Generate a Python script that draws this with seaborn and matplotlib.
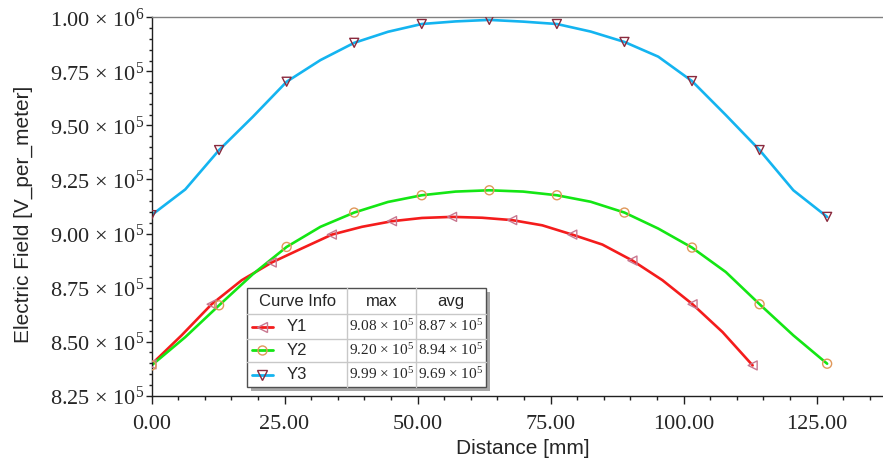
import matplotlib
matplotlib.use("Agg")
import matplotlib.pyplot as plt
import seaborn as sns
import pandas as pd
from matplotlib.patches import Rectangle
from matplotlib.lines import Line2D
from matplotlib.ticker import MultipleLocator

# ---------------- data ----------------
y1_x = [0.0, 5.65, 11.3, 16.95, 22.6, 28.25, 33.9, 39.55, 45.2, 50.85, 56.5,
        62.15, 67.8, 73.45, 79.1, 84.75, 90.4, 96.05, 101.7, 107.35, 113.0]
y1_v = [839500, 852900, 867300, 878400, 886600, 893100, 899500, 903100, 905700, 907200, 907700,
        907300, 906200, 903800, 899500, 894900, 887500, 878400, 867300, 854400, 839000]

y2_x = [0.0, 6.35, 12.7, 19.05, 25.4, 31.75, 38.1, 44.45, 50.8, 57.15, 63.5,
        69.85, 76.2, 82.55, 88.9, 95.25, 101.6, 107.95, 114.3, 120.65, 127.0]
y2_v = [839000, 852100, 866800, 881200, 893800, 903100, 909700, 914600, 917700, 919400, 920000,
        919400, 917700, 914700, 909700, 902300, 893500, 882200, 867300, 852900, 839800]

y3_x = [0.0, 6.35, 12.7, 19.05, 25.4, 31.75, 38.1, 44.45, 50.8, 57.15, 63.5,
        69.85, 76.2, 82.55, 88.9, 95.25, 101.6, 107.95, 114.3, 120.65, 127.0]
y3_v = [908500, 920400, 938600, 954000, 970200, 980200, 988200, 993300, 996900, 998100, 998800,
        998000, 996900, 993400, 988600, 981800, 970500, 954800, 938600, 920000, 907700]

curve_names = ["Y1", "Y2", "Y3"]
max_labels = ["9.08 × 10$^{5}$", "9.20 × 10$^{5}$", "9.99 × 10$^{5}$"]
avg_labels = ["8.87 × 10$^{5}$", "8.94 × 10$^{5}$", "9.69 × 10$^{5}$"]

x_ticks = [0, 25, 50, 75, 100, 125]
x_tick_labels = ["0.00", "25.00", "50.00", "75.00", "100.00", "125.00"]
y_ticks = [825000, 850000, 875000, 900000, 925000, 950000, 975000, 1000000]
y_tick_labels = ["8.25 × 10$^{5}$", "8.50 × 10$^{5}$", "8.75 × 10$^{5}$", "9.00 × 10$^{5}$",
                 "9.25 × 10$^{5}$", "9.50 × 10$^{5}$", "9.75 × 10$^{5}$", "1.00 × 10$^{6}$"]

x_label = "Distance [mm]"
y_label = "Electric Field [V_per_meter]"

# ---------------- style ----------------
sns.set_style("ticks")
plt.rcParams["font.family"] = ["Liberation Sans", "DejaVu Sans"]
plt.rcParams["mathtext.fontset"] = "custom"
plt.rcParams["mathtext.rm"] = "Liberation Serif"
plt.rcParams["mathtext.default"] = "regular"

W, H = 883, 459
fig = plt.figure(figsize=(W / 100, H / 100), dpi=100)
L, T, B = 151.5, 17.3, 395.7
ax = fig.add_axes([L / W, 1 - B / H, (W - L) / W, (B - T) / H])

line_cols = ["#f41c1c", "#14e614", "#14b4f0"]
mark_cols = ["#c87890", "#e0985a", "#8a2a3e"]
markers = ["<", "o", "v"]
xs = [y1_x, y2_x, y3_x]
vs = [y1_v, y2_v, y3_v]

for i in range(3):
    df = pd.DataFrame({"x": xs[i], "v": vs[i]})
    sns.lineplot(data=df, x="x", y="v", ax=ax, color=line_cols[i], linewidth=1.9,
                 estimator=None, sort=False, zorder=2)
for i in range(3):
    dfm = pd.DataFrame({"x": xs[i][::2], "v": vs[i][::2]})
    ax.scatter(dfm["x"], dfm["v"], marker=markers[i], s=42, facecolors="none",
               edgecolors=mark_cols[i], linewidths=1.0, zorder=3)

ax.set_xlim(0, (W - L) / 5.32)
ax.set_ylim(825000, 1000000)
ax.set_xticks(x_ticks)
ax.set_xticklabels(x_tick_labels, fontfamily="Liberation Serif", fontsize=16)
ax.set_yticks(y_ticks)
ax.set_yticklabels(y_tick_labels, fontfamily="Liberation Serif", fontsize=16)
ax.xaxis.set_minor_locator(MultipleLocator(5))
ax.yaxis.set_minor_locator(MultipleLocator(5000))
ax.tick_params(axis="x", which="major", length=6, width=1, direction="out", pad=8, color="#202020")
ax.tick_params(axis="x", which="minor", length=3, width=1, direction="out", color="#202020")
ax.tick_params(axis="y", which="major", length=4, width=1, direction="out", pad=1, color="#202020")
ax.tick_params(axis="y", which="minor", length=2.5, width=1, direction="out", color="#202020")

ax.spines["right"].set_visible(False)
ax.spines["top"].set_color("#808080")
ax.spines["left"].set_color("#202020")
ax.spines["bottom"].set_color("#202020")
for s in ax.spines.values():
    s.set_linewidth(1.0)

ax.set_xlabel(x_label, fontsize=15, va="center")
ax.xaxis.set_label_coords((523 - L) / (W - L), (B - 448) / (B - T))
ax.set_ylabel(y_label, fontsize=15, va="center")
ax.yaxis.set_label_coords((23 - L) / (W - L), 1 - (214 - T) / (B - T))

# ---------------- curve info table ----------------
def fx(px):
    return px / W

def fy(py):
    return 1 - py / H

def rect(x0, y0, x1, y1, **kw):
    r = Rectangle((fx(x0), fy(y1)), (x1 - x0) / W, (y1 - y0) / H,
                  transform=fig.transFigure, **kw)
    fig.add_artist(r)

tx0, ty0, tx1, ty1 = 247.3, 288.3, 485.7, 387.3
rect(tx0 + 4, ty0 + 4, tx1 + 4, ty1 + 4, facecolor="#a8a8a8", edgecolor="none", zorder=5)
rect(tx0, ty0, tx1, ty1, facecolor="white", edgecolor="#505050", linewidth=1.0, zorder=6)
for yy in [314.3, 338.7, 361.7]:
    fig.add_artist(Line2D([fx(tx0), fx(tx1)], [fy(yy), fy(yy)], transform=fig.transFigure,
                          color="#c8c8c8", linewidth=1.0, zorder=7))
for xx in [347.3, 416.0]:
    fig.add_artist(Line2D([fx(xx), fx(xx)], [fy(ty0), fy(ty1)], transform=fig.transFigure,
                          color="#c8c8c8", linewidth=1.0, zorder=7))

hy = 301.3
fig.text(fx(297.5), fy(hy), "Curve Info", fontsize=12, ha="center", va="center", zorder=8)
fig.text(fx(381.7), fy(hy), "max", fontsize=12, ha="center", va="center", zorder=8)
fig.text(fx(450.8), fy(hy), "avg", fontsize=12, ha="center", va="center", zorder=8)
row_y = [326.5, 350.2, 374.5]
for i in range(3):
    ry = row_y[i]
    fig.add_artist(Line2D([fx(251.7), fx(273.3)], [fy(ry), fy(ry)], transform=fig.transFigure,
                          color=line_cols[i], linewidth=2.0, zorder=8))
    fig.add_artist(Line2D([fx(262.0)], [fy(ry)], transform=fig.transFigure, marker=markers[i],
                          markersize=6.5, markerfacecolor="none", markeredgecolor=mark_cols[i],
                          markeredgewidth=1.0, linestyle="none", zorder=9))
    fig.text(fx(286.5), fy(ry), curve_names[i], fontsize=12, ha="left", va="center", zorder=8)
    fig.text(fx(381.7), fy(ry), max_labels[i], fontsize=11, fontfamily="Liberation Serif",
             ha="center", va="center", zorder=8)
    fig.text(fx(450.8), fy(ry), avg_labels[i], fontsize=11, fontfamily="Liberation Serif",
             ha="center", va="center", zorder=8)

fig.savefig("out.png", dpi=100)
